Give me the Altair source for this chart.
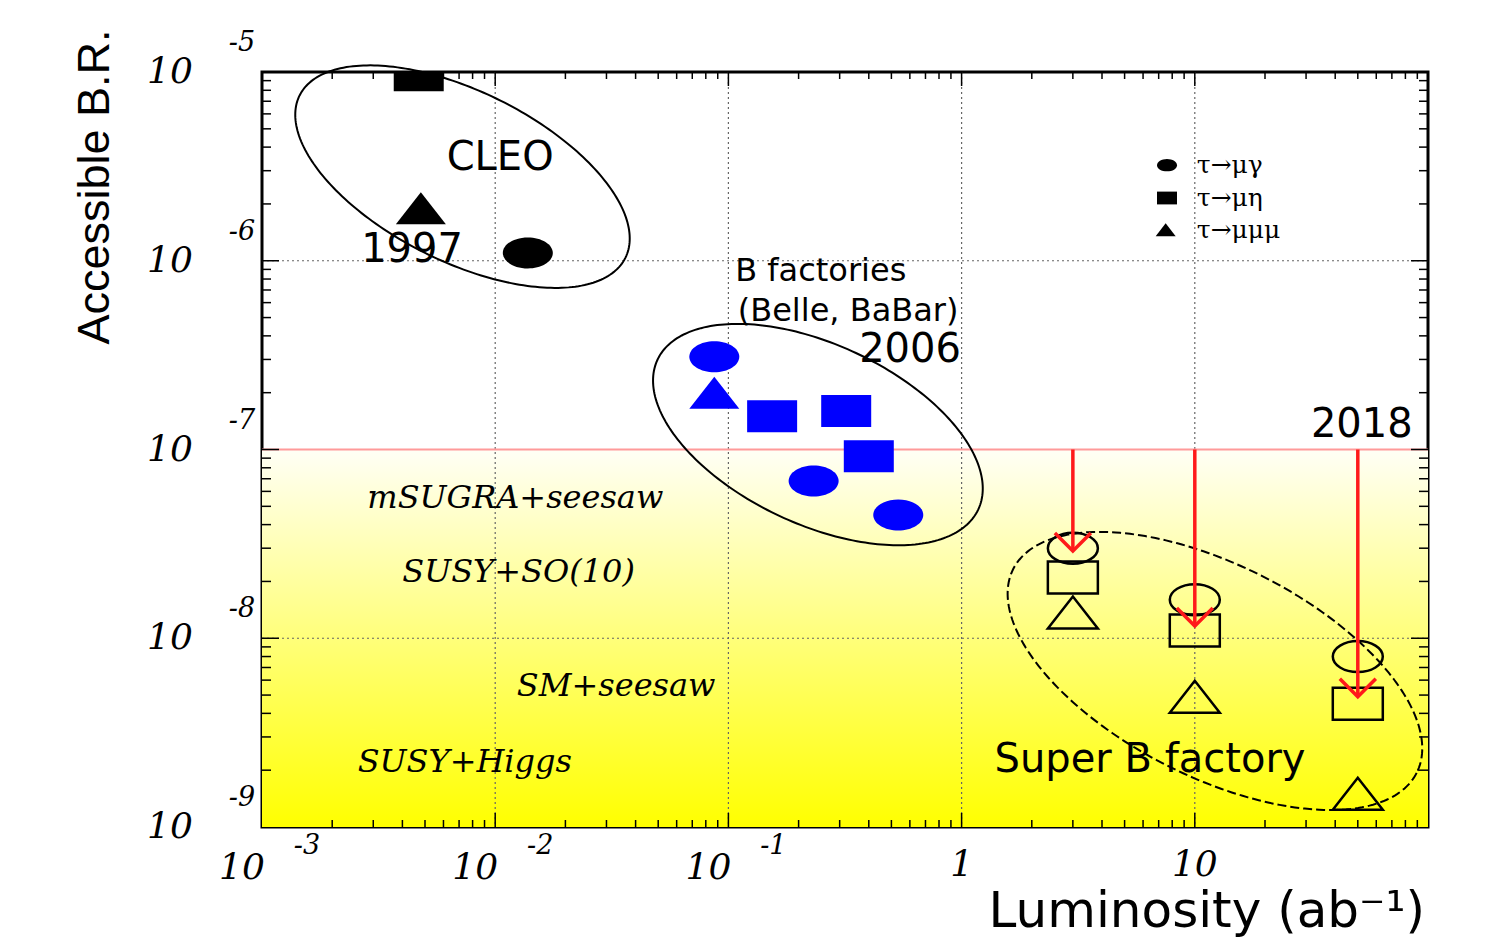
import numpy as np
import pandas as pd
import altair as alt

# ---------------------------------------------------------------------------
# Plot geometry (log-log panel, five decades of luminosity, four of B.R.)
# ---------------------------------------------------------------------------
W, H = 1166, 755
X_DOMAIN = [1e-3, 100]
Y_DOMAIN = [1e-9, 1e-5]
PX_DEC_X = W / 5.0
PX_DEC_Y = H / 4.0

# ---------------------------------------------------------------------------
# Data: integrated luminosity (ab^-1) and reachable branching ratio
# ---------------------------------------------------------------------------
# CLEO (1997)
cleo_lumi = [4.7e-3, 4.8e-3, 1.38e-2]
cleo_br = [9.6e-6, 1.9e-6, 1.1e-6]
cleo_mode = ["mueta", "mumumu", "mugamma"]

# B factories (Belle, BaBar), 2006
bfac_lumi = [0.087, 0.087, 0.154, 0.32, 0.40, 0.232, 0.535]
bfac_br = [3.1e-7, 2.0e-7, 1.5e-7, 1.6e-7, 9.2e-8, 6.8e-8, 4.5e-8]
bfac_mode = ["mugamma", "mumumu", "mueta", "mueta", "mueta", "mugamma", "mugamma"]

# Super B factory projections
superb_lumi = [3, 3, 3, 10, 10, 10, 50, 50, 50]
superb_br = [3.0e-8, 2.1e-8, 1.37e-8, 1.6e-8, 1.1e-8, 4.9e-9, 8.0e-9, 4.5e-9, 1.5e-9]
superb_mode = ["mugamma", "mueta", "mumumu"] * 3

# Red arrows: from the 1e-7 line down to the projected reach
arrow_lumi = [3, 10, 50]
arrow_from = [1e-7, 1e-7, 1e-7]
arrow_to = [2.9e-8, 1.16e-8, 4.9e-9]

# Reference level
br_line = 1e-7

# Grouping ellipses: centre (lumi, BR), semi-axes (px), tilt (deg, clockwise)
ell_name = ["CLEO", "Bfac", "SuperB"]
ell_cx = [7.24e-3, 0.242, 12.2]
ell_cy = [2.79e-6, 1.20e-7, 6.71e-9]
ell_a = [182, 177, 226]
ell_b = [85, 90, 106]
ell_tilt = [26.5, 25.0, 26.8]

# Annotations
sans_text = ["CLEO", "1997", "2006", "2018", "Super B factory"]
sans_x = [1.05e-2, 4.4e-3, 0.601, 52.0, 6.43]
sans_y = [3.5e-6, 1.14e-6, 3.36e-7, 1.35e-7, 2.26e-9]

bfac_text = ["B factories", "(Belle, BaBar)"]
bfac_x = [0.249, 0.326]
bfac_y = [8.8e-7, 5.45e-7]

model_text = ["mSUGRA+seesaw", "SUSY+SO(10)", "SM+seesaw", "SUSY+Higgs"]
model_x = [1.22e-2, 1.26e-2, 3.30e-2, 7.41e-3]
model_y = [5.53e-8, 2.24e-8, 5.58e-9, 2.21e-9]

legend_mode = ["mugamma", "mueta", "mumumu"]
legend_label = ["τ→μγ", "τ→μη", "τ→μμμ"]
legend_sym_x = [7.6, 7.6, 7.5]
legend_txt_x = [10.2, 10.2, 10.2]
legend_y = [3.21e-6, 2.15e-6, 1.46e-6]

# Axis labels
x_lab_val = [1e-3, 1e-2, 1e-1]
x_lab_exp = ["-3", "-2", "-1"]
x_plain_val = [1, 10]
x_plain_txt = ["1", "10"]
y_lab_val = [1e-5, 1e-6, 1e-7, 1e-8, 1e-9]
y_lab_exp = ["-5", "-6", "-7", "-8", "-9"]

# Marker outlines (wide circle, wide square, triangle)
SHAPES = {
    "mugamma": "M -1 0 A 1 0.62 0 1 1 1 0 A 1 0.62 0 1 1 -1 0 Z",
    "mueta": "M -1 -0.64 L 1 -0.64 L 1 0.64 L -1 0.64 Z",
    "mumumu": "M -1 0.64 L 1 0.64 L 0 -0.64 Z",
}
ARROW_HEAD = "M -1 -1 L 0 0 L 1 -1"

xs = alt.Scale(type="log", domain=X_DOMAIN, nice=False)
ys = alt.Scale(type="log", domain=Y_DOMAIN, nice=False)
shape_scale = alt.Scale(domain=list(SHAPES), range=list(SHAPES.values()))


def X(f="x"):
    return alt.X(f"{f}:Q", scale=xs, axis=None)


def Y(f="y"):
    return alt.Y(f"{f}:Q", scale=ys, axis=None)


def ellipse_points():
    rows = []
    t = np.linspace(0, 2 * np.pi, 241)
    for name, cx, cy, a, b, tilt in zip(ell_name, ell_cx, ell_cy, ell_a, ell_b, ell_tilt):
        th = np.radians(tilt)
        dx = a * np.cos(t) * np.cos(th) - b * np.sin(t) * np.sin(th)
        dy = a * np.cos(t) * np.sin(th) + b * np.sin(t) * np.cos(th)
        lx = np.log10(cx) + dx / PX_DEC_X
        ly = np.log10(cy) - dy / PX_DEC_Y
        for i, (u, v) in enumerate(zip(lx, ly)):
            rows.append({"name": name, "i": i, "x": 10 ** u, "y": 10 ** v})
    return pd.DataFrame(rows)


# ---------------------------------------------------------------------------
# Layers
# ---------------------------------------------------------------------------
band = alt.Chart(pd.DataFrame({"x": [X_DOMAIN[0]], "x2": [X_DOMAIN[1]],
                               "y": [Y_DOMAIN[0]], "y2": [br_line]})).mark_rect(
    fill=alt.Gradient(
        gradient="linear",
        stops=[alt.GradientStop(color="#fffff6", offset=0),
               alt.GradientStop(color="#ffff7a", offset=0.5),
               alt.GradientStop(color="#ffff00", offset=1)],
        x1=0, x2=0, y1=0, y2=1,
    )
).encode(x=X(), x2="x2:Q", y=Y(), y2="y2:Q")

grid_x = alt.Chart(pd.DataFrame({"x": [1e-2, 1e-1, 1, 10]})).mark_rule(
    color="#666666", strokeWidth=1.2, strokeDash=[2, 3]
).encode(x=X(), y=alt.value(0), y2=alt.value(H))

grid_y = alt.Chart(pd.DataFrame({"y": [1e-6, 1e-8]})).mark_rule(
    color="#666666", strokeWidth=1.2, strokeDash=[2, 3]
).encode(y=Y(), x=alt.value(0), x2=alt.value(W))

pink = alt.Chart(pd.DataFrame({"y": [br_line]})).mark_rule(
    color="#ff9a9a", strokeWidth=2
).encode(y=Y(), x=alt.value(0), x2=alt.value(W))

# inward ticks on all four sides
x_minor = [m * 10.0 ** k for k in range(-3, 2) for m in range(2, 10)]
x_major = [10.0 ** k for k in range(-2, 2)]
y_minor = [m * 10.0 ** k for k in range(-9, -5) for m in range(2, 10)]
y_major = [10.0 ** k for k in range(-8, -5)]


def xticks(vals, length):
    d = pd.DataFrame({"x": vals})
    base = alt.Chart(d).mark_rule(color="black", strokeWidth=1.5)
    return [base.encode(x=X(), y=alt.value(H), y2=alt.value(H - length)),
            base.encode(x=X(), y=alt.value(0), y2=alt.value(length))]


def yticks(vals, length):
    d = pd.DataFrame({"y": vals})
    base = alt.Chart(d).mark_rule(color="black", strokeWidth=1.5)
    return [base.encode(y=Y(), x=alt.value(0), x2=alt.value(length)),
            base.encode(y=Y(), x=alt.value(W), x2=alt.value(W - length))]


ticks = xticks(x_minor, 7) + xticks(x_major, 14) + yticks(y_minor, 9) + yticks(y_major, 17)

ell = ellipse_points()
ell_solid = alt.Chart(ell[ell["name"] != "SuperB"]).mark_line(
    color="black", strokeWidth=2
).encode(x=X(), y=Y(), order="i:Q", detail="name:N")
ell_dashed = alt.Chart(ell[ell["name"] == "SuperB"]).mark_line(
    color="black", strokeWidth=2, strokeDash=[9, 4]
).encode(x=X(), y=Y(), order="i:Q", detail="name:N")

shape_enc = alt.Shape("mode:N", scale=shape_scale, legend=None)

cleo = alt.Chart(pd.DataFrame({"x": cleo_lumi, "y": cleo_br, "mode": cleo_mode})).mark_point(
    filled=True, color="black", size=2500, opacity=1, clip=True
).encode(x=X(), y=Y(), shape=shape_enc)

bfac = alt.Chart(pd.DataFrame({"x": bfac_lumi, "y": bfac_br, "mode": bfac_mode})).mark_point(
    filled=True, color="#0000ff", size=2500, opacity=1
).encode(x=X(), y=Y(), shape=shape_enc)

superb = alt.Chart(pd.DataFrame({"x": superb_lumi, "y": superb_br, "mode": superb_mode})).mark_point(
    filled=False, color="black", strokeWidth=2.5, size=2500, opacity=1
).encode(x=X(), y=Y(), shape=shape_enc)

arrows_df = pd.DataFrame({"x": arrow_lumi, "y": arrow_from, "y2": arrow_to})
arrow_shaft = alt.Chart(arrows_df).mark_rule(color="#ff1a1a", strokeWidth=3.5).encode(
    x=X(), y=Y(), y2="y2:Q")
arrow_head = alt.Chart(pd.DataFrame({"x": arrow_lumi, "y": arrow_to})).mark_point(
    shape=ARROW_HEAD, filled=False, color="#ff1a1a", strokeWidth=3.5, size=1296, opacity=1
).encode(x=X(), y=Y())

legend_sym = alt.Chart(pd.DataFrame({"x": legend_sym_x, "y": legend_y, "mode": legend_mode})).mark_point(
    filled=True, color="black", size=400, opacity=1
).encode(x=X(), y=Y(), shape=shape_enc)
legend_txt = alt.Chart(pd.DataFrame({"x": legend_txt_x, "y": legend_y, "t": legend_label})).mark_text(
    font="DejaVu Serif", fontSize=25, align="left", baseline="middle", color="black"
).encode(x=X(), y=Y(), text="t:N")

sans = alt.Chart(pd.DataFrame({"x": sans_x, "y": sans_y, "t": sans_text})).mark_text(
    font="DejaVu Sans", fontSize=40, align="center", baseline="middle", color="black"
).encode(x=X(), y=Y(), text="t:N")

bfac_lab = alt.Chart(pd.DataFrame({"x": bfac_x, "y": bfac_y, "t": bfac_text})).mark_text(
    font="DejaVu Sans", fontSize=32, align="center", baseline="middle", color="black"
).encode(x=X(), y=Y(), text="t:N")

models = alt.Chart(pd.DataFrame({"x": model_x, "y": model_y, "t": model_text})).mark_text(
    font="DejaVu Serif", fontStyle="italic", fontSize=32, align="center", baseline="middle",
    color="black"
).encode(x=X(), y=Y(), text="t:N")

# axis numbers: italic "10" with a raised exponent
serif_num = dict(font="DejaVu Serif", fontStyle="italic", color="black", baseline="middle",
                 align="center")
ylab_df = pd.DataFrame({"y": y_lab_val, "b": ["10"] * len(y_lab_val), "e": y_lab_exp})
ylab_base = alt.Chart(ylab_df).mark_text(fontSize=36, **serif_num).encode(
    y=Y(), x=alt.value(-92), text="b:N")
ylab_exp = alt.Chart(ylab_df).mark_text(fontSize=27, dy=-29, **serif_num).encode(
    y=Y(), x=alt.value(-20), text="e:N")

xlab_df = pd.DataFrame({"x": x_lab_val, "b": ["10"] * len(x_lab_val), "e": x_lab_exp})
xlab_base = alt.Chart(xlab_df).mark_text(fontSize=36, dx=-20, **serif_num).encode(
    x=X(), y=alt.value(H + 41), text="b:N")
xlab_exp = alt.Chart(xlab_df).mark_text(fontSize=27, dx=45, **serif_num).encode(
    x=X(), y=alt.value(H + 19), text="e:N")
xlab_plain = alt.Chart(pd.DataFrame({"x": x_plain_val, "b": x_plain_txt})).mark_text(
    fontSize=36, **serif_num).encode(x=X(), y=alt.value(H + 38), text="b:N")

x_title = alt.Chart(pd.DataFrame({"t": ["Luminosity (ab⁻¹)"]})).mark_text(
    font="DejaVu Sans", fontSize=50, align="right", baseline="alphabetic", color="black"
).encode(x=alt.value(W - 3), y=alt.value(H + 100), text="t:N")

y_title = alt.Chart(pd.DataFrame({"t": ["Accessible B.R."]})).mark_text(
    font="Liberation Sans", fontSize=45, angle=270, align="center",
    baseline="middle", color="black"
).encode(x=alt.value(-167), y=alt.value(115), text="t:N")

chart = alt.layer(
    band, grid_x, grid_y, pink, *ticks,
    ell_solid, ell_dashed,
    cleo, bfac, superb, arrow_shaft, arrow_head,
    legend_sym, legend_txt, sans, bfac_lab, models,
    ylab_base, ylab_exp, xlab_base, xlab_exp, xlab_plain,
    x_title, y_title,
).properties(
    width=W, height=H,
    padding={"left": 262, "top": 72, "right": 75, "bottom": 121},
    autosize=alt.AutoSizeParams(type="none"),
    background="white",
).configure_view(stroke="black", strokeWidth=3)

chart.save("out.html", embed_options={"renderer": "svg", "actions": False})
